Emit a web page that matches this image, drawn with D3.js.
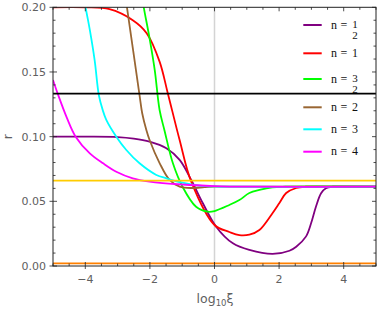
<!DOCTYPE html>
<html>
<head>
<meta charset="utf-8">
<script src="https://cdn.jsdelivr.net/npm/d3@7"></script>
<style>
  html, body { margin: 0; padding: 0; background: #fff; }
  svg { display: block; }
</style>
</head>
<body>
<div id="chart"></div>
<script>
// ---- Data ----
const xTicks = [-4, -2, 0, 2, 4];
const yTicks = [0.00, 0.05, 0.10, 0.15, 0.20];
const yTickLabels = ["0.00", "0.05", "0.10", "0.15", "0.20"];
const xTickLabels = ["\u22124", "\u22122", "0", "2", "4"];

const purpleX = [-5, -4, -3, -2.5, -2.01, -1.49, -1.08, -0.72, -0.36, 0.05, 0.57, 1.08, 1.80, 2.32, 2.53, 2.83, 2.99, 3.14, 3.30, 3.45, 3.66, 4, 5];
const purpleR = [0.1, 0.1, 0.0997, 0.0985, 0.0961, 0.091, 0.082, 0.0665, 0.0485, 0.0304, 0.0175, 0.0124, 0.0093, 0.0118, 0.0149, 0.0227, 0.033, 0.0458, 0.0562, 0.0601, 0.0613, 0.0613, 0.0613];

const redX = [-5, -4, -3.25, -2.53, -2.10, -1.70, -1.45, -1.08, -0.72, 0, 0.46, 0.77, 1.08, 1.39, 1.80, 2.01, 2.22, 2.53, 2.83, 3.2, 5];
const redR = [0.2, 0.2, 0.1985, 0.190, 0.180, 0.158, 0.134, 0.0974, 0.0652, 0.0317, 0.0263, 0.0238, 0.0242, 0.0278, 0.0410, 0.0487, 0.0564, 0.0603, 0.0613, 0.0613, 0.0613];

const greenX = [-2.3, -2.19, -2.01, -1.85, -1.70, -1.55, -1.29, -0.99, -0.57, -0.21, 0, 0.46, 0.77, 1.08, 1.39, 1.79, 2.2, 5];
const greenR = [0.217, 0.2, 0.176, 0.1515, 0.1206, 0.105, 0.0796, 0.0613, 0.0458, 0.042, 0.0425, 0.0472, 0.051, 0.0564, 0.0588, 0.0608, 0.0613, 0.0613];

const brownX = [-2.8, -2.71, -2.32, -2.24, -2.11, -2.01, -1.70, -1.39, -1.08, -0.68, -0.31, 0, 5];
const brownR = [0.215, 0.2, 0.132, 0.1183, 0.1051, 0.0974, 0.0796, 0.0665, 0.0613, 0.0603, 0.0610, 0.0613, 0.0613];

const cyanX = [-4.1, -3.99, -3.86, -3.71, -3.58, -3.46, -3.35, -3.04, -2.73, -2.32, -1.80, -1.49, -0.99, -0.46, 0, 0.5, 5];
const cyanR = [0.218, 0.2, 0.1825, 0.159, 0.132, 0.1205, 0.113, 0.100, 0.0897, 0.0794, 0.0704, 0.0678, 0.0644, 0.0622, 0.0615, 0.0613, 0.0613];

const magentaX = [-5, -4.84, -4.57, -4.30, -3.86, -3.45, -3.04, -2.53, -2.01, -0.99, 0, 1.08, 5];
const magentaR = [0.1438, 0.1322, 0.1145, 0.100, 0.0871, 0.0794, 0.0729, 0.0678, 0.0653, 0.063, 0.0618, 0.0613, 0.0613];

const hLineValues = [0.1333, 0.066, 0.002];
const hLineColors = ["#000000", "#ffcc00", "#ff8000"];

const seriesNames = ["1/2", "1", "3/2", "2", "3", "4"];
const seriesColors = ["#800080", "#ff0000", "#00ff00", "#996633", "#00ffff", "#ff00ff"];
const seriesXs = [purpleX, redX, greenX, brownX, cyanX, magentaX];
const seriesRs = [purpleR, redR, greenR, brownR, cyanR, magentaR];

// ---- Layout ----
const W = 379, H = 311;
const pL = 53, pR = 376, pT = 7.3, pB = 266;

const x = d3.scaleLinear().domain([-5, 5]).range([pL, pR]);
const y = d3.scaleLinear().domain([0, 0.2]).range([pB, pT]);

const svg = d3.select("#chart").append("svg").attr("width", W).attr("height", H);

svg.append("defs").append("clipPath").attr("id", "clip")
  .append("rect").attr("x", pL).attr("y", pT).attr("width", pR - pL).attr("height", pB - pT);

// vertical grid line at 0
svg.append("line").attr("x1", x(0)).attr("x2", x(0)).attr("y1", pT).attr("y2", pB)
  .attr("stroke", "#d4d4d4").attr("stroke-width", 1.5);

const plot = svg.append("g").attr("clip-path", "url(#clip)");

const line = d3.line().x(d => x(d[0])).y(d => y(d[1])).curve(d3.curveCatmullRom.alpha(0.5));

seriesXs.forEach((xs, i) => {
  const pts = xs.map((v, j) => [v, seriesRs[i][j]]);
  plot.append("path").datum(pts).attr("d", line)
    .attr("fill", "none").attr("stroke", seriesColors[i]).attr("stroke-width", 1.8);
});

hLineValues.forEach((v, i) => {
  plot.append("line").attr("x1", pL).attr("x2", pR).attr("y1", y(v)).attr("y2", y(v))
    .attr("stroke", hLineColors[i]).attr("stroke-width", 1.8);
});

// ---- Frame & ticks ----
const axisColor = "#222";
const tickTextColor = "#606060";
const fontSans = "'DejaVu Sans', sans-serif";

const frame = svg.append("g");
frame.append("rect").attr("x", pL).attr("y", pT).attr("width", pR - pL).attr("height", pB - pT)
  .attr("fill", "none").attr("stroke", axisColor).attr("stroke-width", 1);

const minorX = d3.range(-5, 5.001, 0.5);
const minorY = d3.range(0, 0.2001, 0.01);

minorX.forEach(v => {
  const major = xTicks.some(t => Math.abs(t - v) < 1e-9);
  const len = major ? 4 : 2.5;
  frame.append("line").attr("x1", x(v)).attr("x2", x(v)).attr("y1", pB + (major ? 3 : 0)).attr("y2", pB - len)
    .attr("stroke", axisColor).attr("stroke-width", 0.8);
  frame.append("line").attr("x1", x(v)).attr("x2", x(v)).attr("y1", pT).attr("y2", pT + len)
    .attr("stroke", axisColor).attr("stroke-width", 0.8);
});
minorY.forEach(v => {
  const major = yTicks.some(t => Math.abs(t - v) < 1e-9);
  const len = major ? 4 : 2.5;
  frame.append("line").attr("x1", pL - (major ? 3.5 : 0)).attr("x2", pL + len).attr("y1", y(v)).attr("y2", y(v))
    .attr("stroke", axisColor).attr("stroke-width", 0.8);
  frame.append("line").attr("x1", pR).attr("x2", pR - len).attr("y1", y(v)).attr("y2", y(v))
    .attr("stroke", axisColor).attr("stroke-width", 0.8);
});

yTicks.forEach((v, i) => {
  svg.append("text").attr("x", 46).attr("y", y(v) + 4)
    .attr("text-anchor", "end").attr("font-family", fontSans).attr("font-size", 11)
    .attr("fill", tickTextColor).text(yTickLabels[i]);
});
xTicks.forEach((v, i) => {
  svg.append("text").attr("x", x(v)).attr("y", 282.5)
    .attr("text-anchor", "middle").attr("font-family", fontSans).attr("font-size", 11)
    .attr("fill", tickTextColor).text(xTickLabels[i]);
});

// axis titles
const xt = svg.append("text").attr("x", 215).attr("y", 303).attr("text-anchor", "middle")
  .attr("font-family", fontSans).attr("font-size", 12.5).attr("fill", tickTextColor);
xt.append("tspan").text("log");
xt.append("tspan").attr("font-size", 8.5).attr("dy", 3).text("10");
xt.append("tspan").attr("dy", -3).text("\u03be");

svg.append("text").attr("transform", "translate(12,136.7) rotate(-90)").attr("text-anchor", "middle")
  .attr("font-family", fontSans).attr("font-size", 12).attr("fill", tickTextColor).text("r");

// ---- Legend ----
const legendRows = [25, 53.3, 79, 107.3, 129.3, 151.7];
const fontSerif = "'Liberation Serif', 'Times New Roman', serif";
const legend = svg.append("g");
seriesNames.forEach((name, i) => {
  const ry = legendRows[i];
  legend.append("line").attr("x1", 303.3).attr("x2", 321.7).attr("y1", ry).attr("y2", ry)
    .attr("stroke", seriesColors[i]).attr("stroke-width", 2);
  legend.append("text").attr("x", 331).attr("y", ry + 3.5)
    .attr("font-family", fontSerif).attr("font-size", 12).attr("fill", "#111").text("n");
  legend.append("text").attr("x", 344).attr("y", ry + 3.5).attr("text-anchor", "middle")
    .attr("font-family", fontSerif).attr("font-size", 12).attr("fill", "#111").text("=");
  const parts = name.split("/");
  if (parts.length === 2) {
    legend.append("text").attr("x", 355).attr("y", ry + 2.5).attr("text-anchor", "middle")
      .attr("font-family", fontSerif).attr("font-size", 11).attr("fill", "#111").text(parts[0]);
    legend.append("text").attr("x", 355).attr("y", ry + 14.3).attr("text-anchor", "middle")
      .attr("font-family", fontSerif).attr("font-size", 11).attr("fill", "#111").text(parts[1]);
  } else {
    legend.append("text").attr("x", 355).attr("y", ry + 3.5).attr("text-anchor", "middle")
      .attr("font-family", fontSerif).attr("font-size", 12).attr("fill", "#111").text(name);
  }
});
</script>
</body>
</html>
